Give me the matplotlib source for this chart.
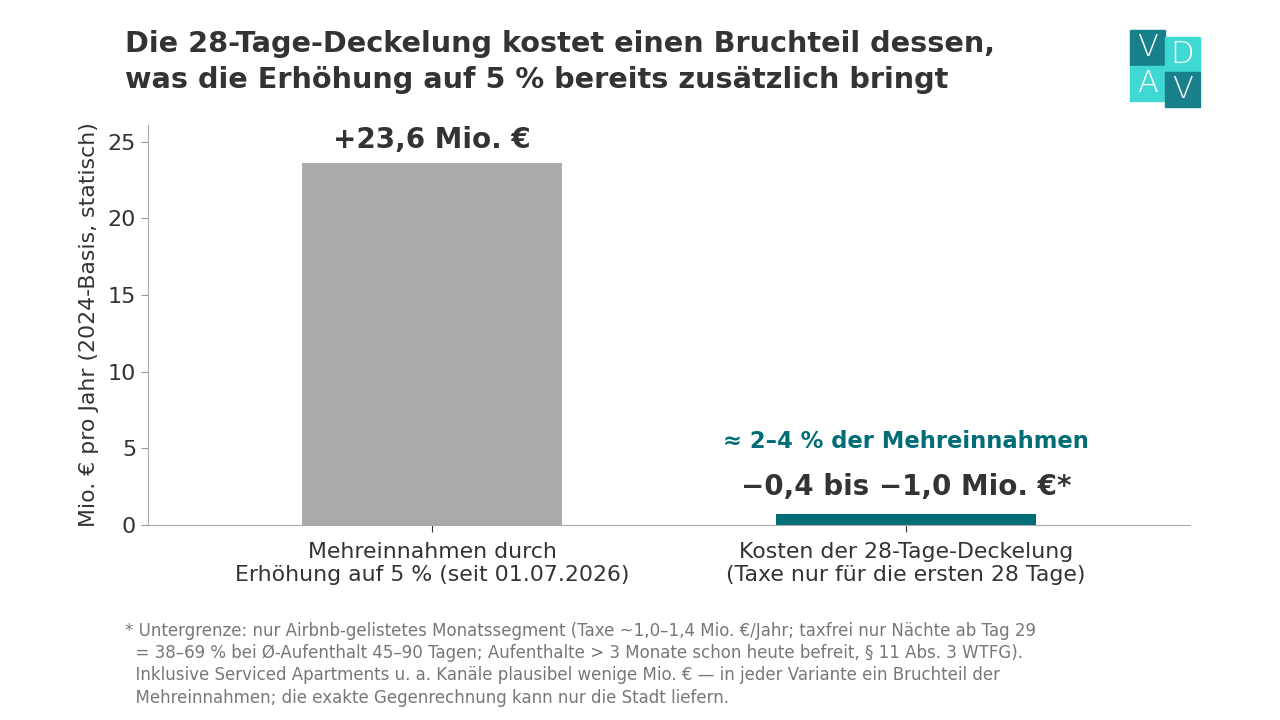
import matplotlib
matplotlib.use('Agg')
import matplotlib.pyplot as plt
from matplotlib.patches import Rectangle

plt.rcParams['font.family'] = ['DejaVu Sans']

categories = ['Mehreinnahmen durch\nErhöhung auf 5 % (seit 01.07.2026)',
              'Kosten der 28-Tage-Deckelung\n(Taxe nur für die ersten 28 Tage)']
values = [23.6, 0.7]
value_labels = ['+23,6 Mio. €', '−0,4 bis −1,0 Mio. €*']
share_label = '≈ 2–4 % der Mehreinnahmen'
bar_colors = ['#aaaaaa', '#006d77']

title = ('Die 28-Tage-Deckelung kostet einen Bruchteil dessen,\n'
         'was die Erhöhung auf 5 % bereits zusätzlich bringt')
ylabel = 'Mio. € pro Jahr (2024-Basis, statisch)'
footnote = ('* Untergrenze: nur Airbnb-gelistetes Monatssegment (Taxe ~1,0–1,4 Mio. €/Jahr; taxfrei nur Nächte ab Tag 29\n'
            '  = 38–69 % bei Ø-Aufenthalt 45–90 Tagen; Aufenthalte > 3 Monate schon heute befreit, § 11 Abs. 3 WTFG).\n'
            '  Inklusive Serviced Apartments u. a. Kanäle plausibel wenige Mio. € — in jeder Variante ein Bruchteil der\n'
            '  Mehreinnahmen; die exakte Gegenrechnung kann nur die Stadt liefern.')

dark = '#333333'
teal = '#006d77'

fig = plt.figure(figsize=(12.8, 7.2), dpi=100)
ax = fig.add_axes([148 / 1280, 1 - 525 / 720, (1190 - 148) / 1280, 400 / 720])

x = range(len(values))
ax.bar(x, values, width=0.55, color=bar_colors)
ax.set_xlim(-0.6, 1.6)
ax.set_ylim(0, 26.1)
ax.set_yticks([0, 5, 10, 15, 20, 25])
ax.set_xticks(list(x))
ax.set_xticklabels(categories, fontsize=15.8, color=dark)
ax.tick_params(axis='y', labelsize=16, labelcolor=dark, color='#999999', length=5)
ax.tick_params(axis='x', color=dark, length=5, pad=7)
ax.set_ylabel(ylabel, fontsize=15.8, color=dark, labelpad=6)
for s in ['top', 'right']:
    ax.spines[s].set_visible(False)
for s in ['left', 'bottom']:
    ax.spines[s].set_color('#aaaaaa')

ax.text(0, values[0] + 0.6, value_labels[0], ha='center', va='bottom',
        fontsize=20, fontweight='bold', color=dark)
ax.text(1, values[1] + 0.85, value_labels[1], ha='center', va='bottom',
        fontsize=20, fontweight='bold', color=dark)
ax.text(1, values[1] + 4.0, share_label, ha='center', va='bottom',
        fontsize=16.3, fontweight='bold', color=teal)

fig.text(125 / 1280, 1 - 30 / 720, title, ha='left', va='top',
         fontsize=20.7, fontweight='bold', color=dark, linespacing=1.35)

fig.text(125 / 1280, 1 - 622 / 720, footnote, ha='left', va='top',
         fontsize=12, color='#777777', linespacing=1.3)

# logo
dark_sq, light_sq = '#17808a', '#3fd8d2'
squares = [(1130, 30, dark_sq, 'V'), (1165, 37, light_sq, 'D'),
           (1130, 66, light_sq, 'A'), (1165, 72, dark_sq, 'V')]
for px, py, c, letter in squares:
    fig.patches.append(Rectangle((px / 1280, 1 - (py + 35) / 720), 35 / 1280, 35 / 720,
                                 transform=fig.transFigure, color=c, zorder=5))
    fig.text((px + 17.5) / 1280, 1 - (py + 17.5) / 720, letter, ha='center', va='center',
             fontsize=22, color='white', fontweight='light', zorder=6)

fig.savefig('out.png', dpi=100, facecolor='white')
